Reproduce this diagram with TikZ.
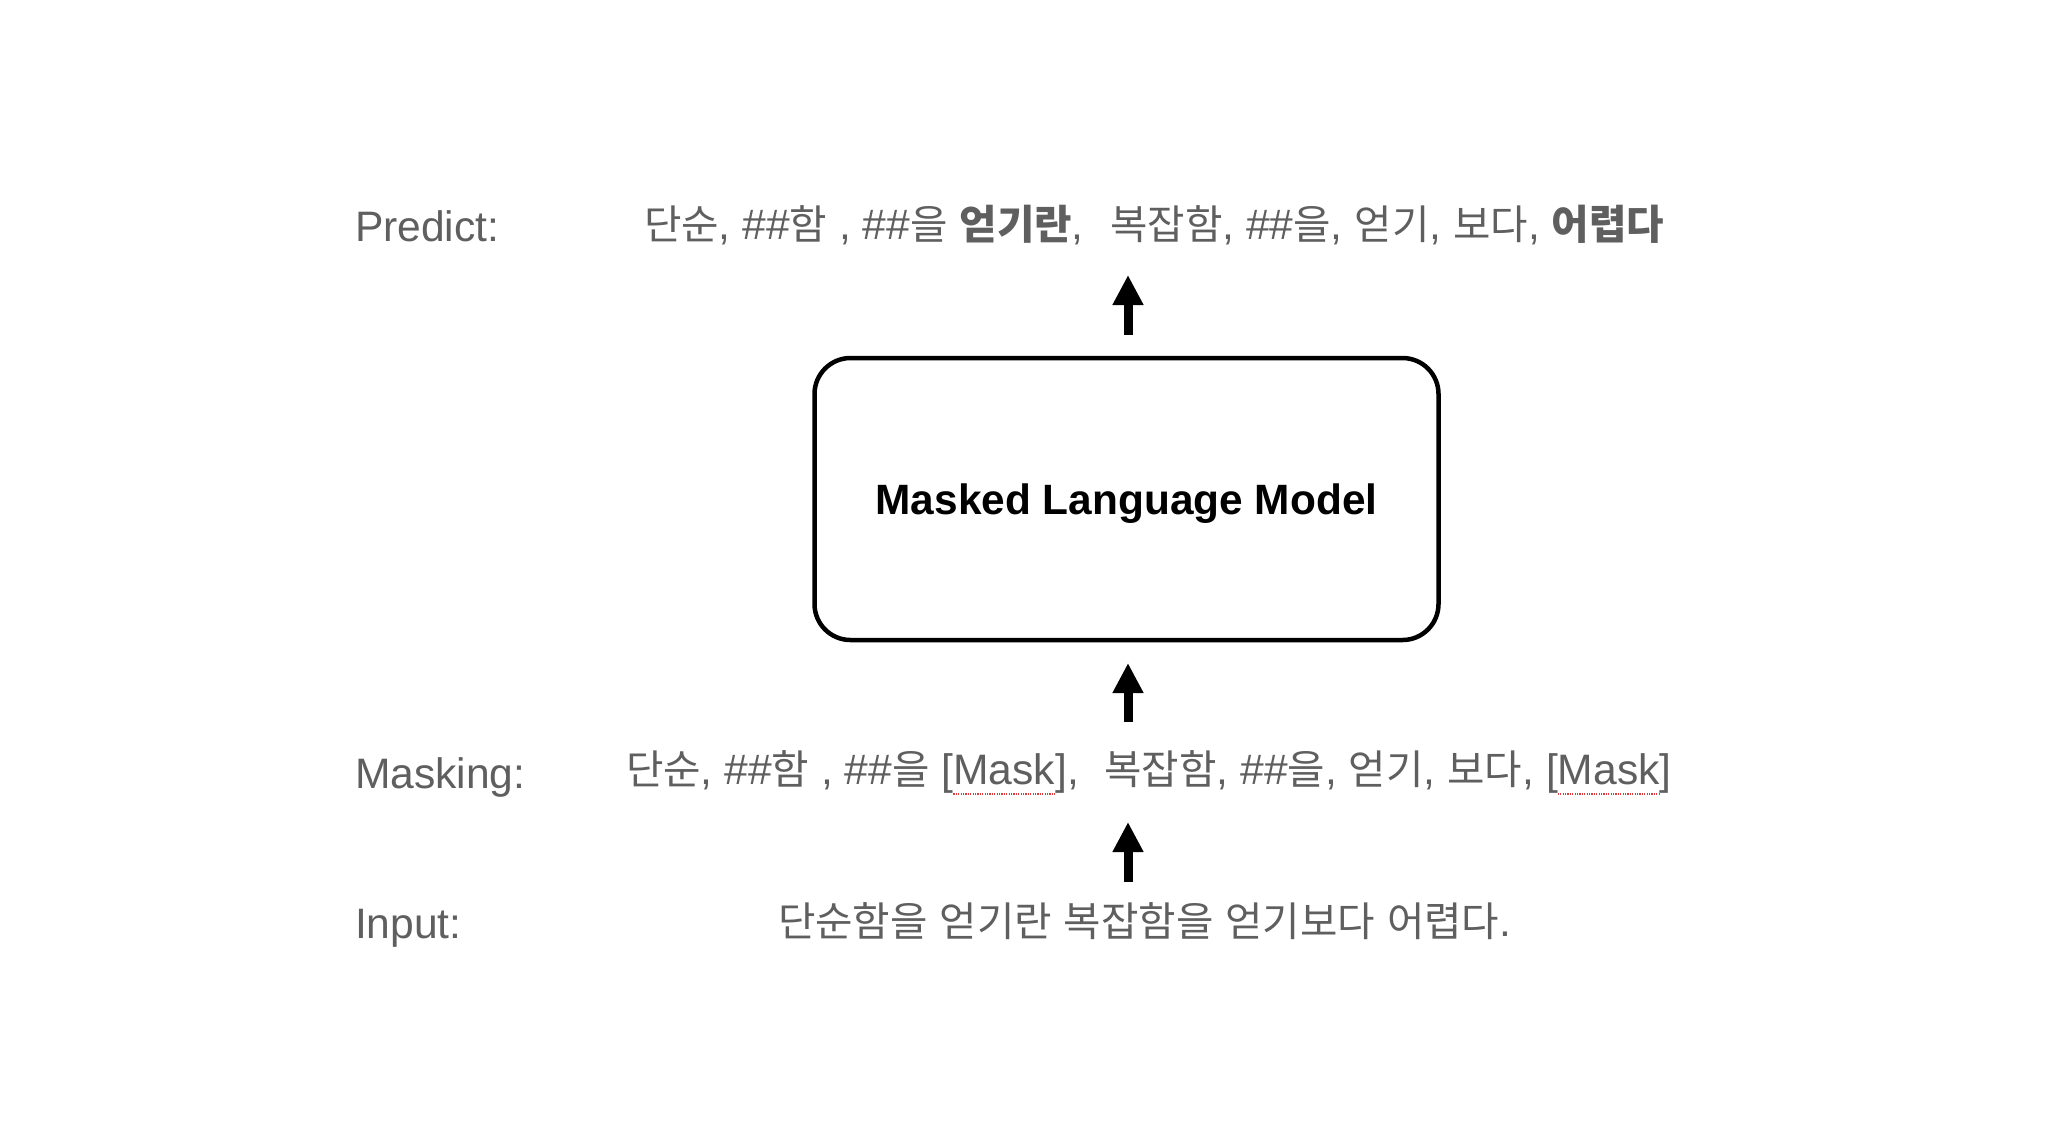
\documentclass[tikz,border=0pt]{standalone}
\usepackage{fontspec}
\usetikzlibrary{arrows.meta}
\setmainfont{Liberation Sans}
\newfontfamily\krfont{Noto Sans CJK KR}
\newcommand\K[1]{{\krfont\fontsize{20.35}{25}\selectfont #1}}
\definecolor{txtgray}{RGB}{95,95,95}
\definecolor{spellred}{RGB}{220,60,60}
\begin{document}
\begin{tikzpicture}[x=0.5pt,y=-0.5pt]
\useasboundingbox[fill=white] (0,0) rectangle (2048,1137);
\tikzset{
  lbl/.style={anchor=base west, inner sep=0pt, outer sep=0pt, text=txtgray,
    font=\fontsize{21.3}{25}\selectfont},
  kr/.style={anchor=base west, inner sep=0pt, outer sep=0pt, text=txtgray,
    font=\fontsize{21.3}{25}\selectfont},
  modelbox/.style={draw=black, line width=2.25pt, rounded corners=18pt,
    minimum width=312pt, minimum height=141pt, inner sep=0pt},
  modeltext/.style={font=\bfseries\fontsize{21.2}{25}\selectfont, text=black, inner sep=0pt},
  uparrow/.style={line width=4.5pt, -{Triangle[width=14.5pt,length=15pt]}},
  spell/.style={spellred, line width=0.6pt, dash pattern=on 0.6pt off 0.6pt}
}
% labels
\node[lbl] (plbl) at (355,241) {Predict:};
\node[lbl] (mlbl) at (355,788) {Masking:};
\node[lbl] (ilbl) at (355,938) {Input:};

% predict line
\node[kr] (pred) at (644,239) {\K{단순}, \#\#\K{함} , \#\#\K{을} \textbf{\K{얻기란}},\hspace{0.62em}\K{복잡함}, \#\#\K{을}, \K{얻기}, \K{보다}, \textbf{\K{어렵다}}};

% masking line
\node[kr] (m1) at (626,784) {\K{단순}, \#\#\K{함} , \#\#\K{을} [};
\node[kr] (mk1) at (m1.base east) {Mask};
\node[kr] (m2) at (mk1.base east) {],\hspace{0.6em}\K{복잡함}, \#\#\K{을}, \K{얻기}, \K{보다}, [};
\node[kr] (mk2) at (m2.base east) {Mask};
\node[kr] (m3) at (mk2.base east) {]};
\draw[spell] ([yshift=-5]mk1.base west) -- ([yshift=-5]mk1.base east);
\draw[spell] ([yshift=-5]mk2.base west) -- ([yshift=-5]mk2.base east);

% input line
\node[kr] (inp) at (778,936) {\K{단순함을} \K{얻기란} \K{복잡함을} \K{얻기보다} \K{어렵다}.};

% model box
\node[modelbox] (mlm) at (1126.5,499) {};
\node[modeltext] (mlmtext) at (1126.5,504) {Masked Language Model};

% arrows
\coordinate (a1s) at (1128,335);
\coordinate (a1e) at (1128,275);
\coordinate (a2s) at (1128,722);
\coordinate (a2e) at (1128,663);
\coordinate (a3s) at (1128,882);
\coordinate (a3e) at (1128,822);
\draw[uparrow] (a1s) -- (a1e);
\draw[uparrow] (a2s) -- (a2e);
\draw[uparrow] (a3s) -- (a3e);
\end{tikzpicture}
\end{document}
